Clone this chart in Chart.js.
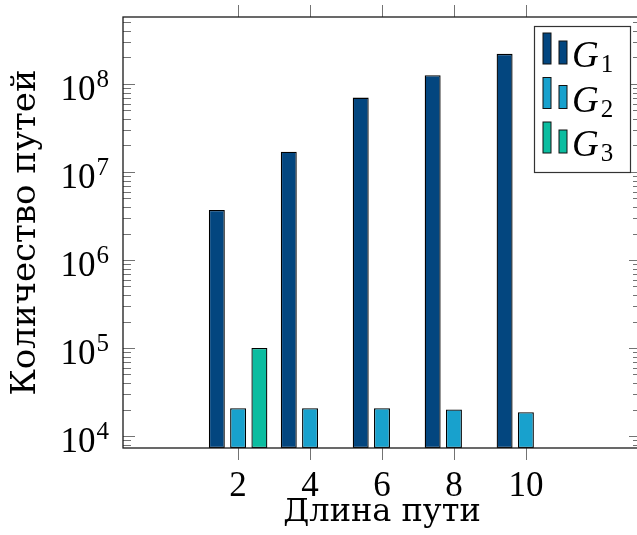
<!DOCTYPE html>
<html>
<head>
<meta charset="utf-8">
<script src="https://cdn.jsdelivr.net/npm/chart.js@4/dist/chart.umd.min.js"></script>
<style>
html, body { margin: 0; padding: 0; overflow: hidden; background: #fff; }
</style>
</head>
<body>
<canvas id="myChart" width="645" height="535"></canvas>
<script>
// data
const pathLengths = [2, 4, 6, 8, 10];
const seriesNames = ['G', 'G', 'G'];
const seriesIndex = ['1', '2', '3'];
const g1Values = [3.7e6, 1.7e7, 7.0e7, 1.26e8, 2.2e8];
const g2Values = [2.07e4, 2.07e4, 2.07e4, 2.0e4, 1.86e4];
const g3Values = [1.0e5, null, null, null, null];
const colors = ['#03467f', '#18a1cd', '#0bbda0'];

const numFont = '"Liberation Serif", serif';
const textFont = '"DejaVu Serif", serif';

function toPoints(values) {
    return pathLengths.map((x, i) => ({ x: x, y: values[i] })).filter(p => p.y !== null);
}

// ticks drawn pgfplots style: inside for y, outside for x, on both sides
const frameAndTicks = {
    id: 'frameAndTicks',
    afterDatasetsDraw(chart) {
        const { ctx, chartArea: a, scales: { x, y } } = chart;
        ctx.save();
        ctx.strokeStyle = 'rgba(0,0,0,0.55)';
        ctx.lineWidth = 1;
        y.ticks.forEach(t => {
            const py = Math.round(y.getPixelForValue(t.value)) + 0.5;
            const len = t.major ? 12 : 8;
            ctx.beginPath();
            ctx.moveTo(a.left, py); ctx.lineTo(a.left + len, py);
            ctx.moveTo(a.right, py); ctx.lineTo(a.right - len, py);
            ctx.stroke();
        });
        x.ticks.forEach(t => {
            const px = Math.round(x.getPixelForValue(t.value)) + 0.5;
            ctx.beginPath();
            ctx.moveTo(px, a.bottom); ctx.lineTo(px, a.bottom + 12);
            ctx.moveTo(px, a.top); ctx.lineTo(px, a.top - 12);
            ctx.stroke();
        });
        ctx.strokeStyle = '#1a1a1a';
        ctx.lineWidth = 1.3;
        ctx.strokeRect(a.left, a.top, a.right - a.left, a.bottom - a.top);

        // y tick labels 10^n
        ctx.fillStyle = '#000';
        ctx.textBaseline = 'alphabetic';
        y.ticks.filter(t => t.major).forEach(t => {
            const py = y.getPixelForValue(t.value);
            const exp = String(Math.round(Math.log10(t.value)));
            ctx.font = '25px ' + numFont;
            const ew = ctx.measureText(exp).width;
            ctx.textAlign = 'left';
            ctx.fillText(exp, 109 - ew, py + 3);
            ctx.font = '35px ' + numFont;
            ctx.textAlign = 'right';
            ctx.fillText('10', 109 - ew - 1, py + 16);
        });
        ctx.restore();
    }
};

const barLegend = {
    id: 'barLegend',
    afterDraw(chart) {
        const ctx = chart.ctx;
        const bx = 534, by = 26, bw = 96, bh = 146;
        ctx.save();
        ctx.fillStyle = '#fff';
        ctx.fillRect(bx, by, bw, bh);
        ctx.strokeStyle = '#333';
        ctx.lineWidth = 1.2;
        ctx.strokeRect(bx + 0.5, by + 0.5, bw, bh);
        chart.data.datasets.forEach((ds, i) => {
            const top = by + 7 + i * 44.5;
            const bottom = top + 31;
            ctx.fillStyle = ds.backgroundColor;
            ctx.strokeStyle = '#111';
            ctx.lineWidth = 1;
            ctx.fillRect(bx + 9, top, 8, bottom - top);
            ctx.strokeRect(bx + 9, top, 8, bottom - top);
            ctx.fillRect(bx + 25, top + 8, 8, bottom - top - 8);
            ctx.strokeRect(bx + 25, top + 8, 8, bottom - top - 8);
            ctx.fillStyle = '#000';
            ctx.textAlign = 'left';
            ctx.textBaseline = 'alphabetic';
            ctx.font = 'italic 37px ' + numFont;
            ctx.fillText(seriesNames[i], bx + 38, top + 34);
            const gw = ctx.measureText(seriesNames[i]).width;
            ctx.font = '25px ' + numFont;
            ctx.fillText(seriesIndex[i], bx + 38 + gw + 2, top + 39);
        });
        ctx.restore();
    }
};

const datasets = [g1Values, g2Values, g3Values].map((vals, i) => ({
    label: seriesNames[i] + seriesIndex[i],
    data: toPoints(vals),
    backgroundColor: colors[i],
    borderColor: '#000',
    borderWidth: 1.3,
    borderSkipped: false,
    categoryPercentage: 0.8875,
    barPercentage: 0.75
}));

new Chart('myChart', {
    type: 'bar',
    data: { datasets: datasets },
    options: {
        responsive: false,
        animation: false,
        layout: { padding: { top: 17, right: 4, left: 0, bottom: 0 } },
        plugins: { legend: { display: false }, tooltip: { enabled: false } },
        scales: {
            x: {
                type: 'linear',
                min: -1.2,
                max: 13.2,
                offset: false,
                grid: { display: false, drawTicks: false },
                border: { display: false },
                afterBuildTicks: s => { s.ticks = pathLengths.map(v => ({ value: v })); },
                afterFit: s => { s.height = 87; },
                ticks: {
                    autoSkip: false,
                    maxRotation: 0,
                    padding: 18,
                    color: '#000',
                    font: { family: numFont, size: 35 },
                    callback: v => String(v)
                },
                title: {
                    display: true,
                    text: 'Длина пути',
                    color: '#000',
                    font: { family: textFont, size: 32, lineHeight: 1.2 },
                    padding: { top: 0, bottom: 3 }
                }
            },
            y: {
                type: 'logarithmic',
                min: 7305,
                max: 5.77e8,
                grid: { display: false, drawTicks: false },
                border: { display: false },
                afterBuildTicks: s => {
                    const ticks = [];
                    for (let e = 3; e <= 8; e++) {
                        for (let k = 1; k <= 9; k++) {
                            const v = k * Math.pow(10, e);
                            if (v >= s.min && v <= s.max) ticks.push({ value: v, major: k === 1 });
                        }
                    }
                    s.ticks = ticks;
                },
                afterFit: s => { s.width = 123; },
                ticks: { display: false },
                title: {
                    display: true,
                    text: 'Количество путей',
                    color: '#000',
                    font: { family: textFont, size: 34, lineHeight: 1.2 },
                    padding: { top: 6, bottom: 0 }
                }
            }
        }
    },
    plugins: [frameAndTicks, barLegend]
});
</script>
</body>
</html>
